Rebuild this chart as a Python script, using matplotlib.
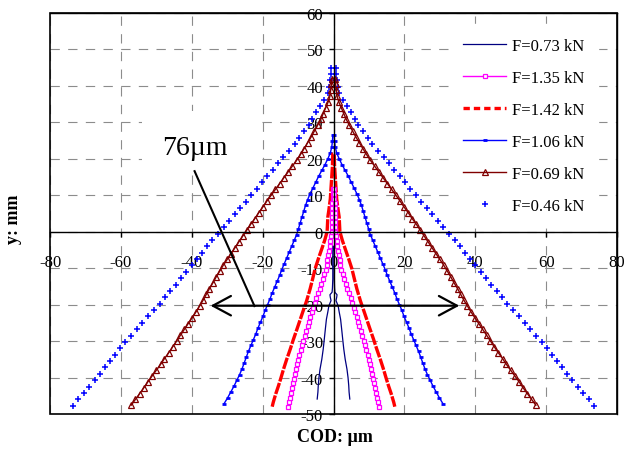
import numpy as np
import matplotlib
matplotlib.use("Agg")
import matplotlib.pyplot as plt
from matplotlib.patches import Rectangle
from matplotlib.lines import Line2D

plt.rcParams['font.family'] = ['Liberation Serif', 'DejaVu Serif']
plt.rcParams['axes.unicode_minus'] = False

# ---------------- data (y position in mm, half opening in µm) ----------------
labels = ["F=0.73 kN", "F=1.35 kN", "F=1.42 kN", "F=1.06 kN", "F=0.69 kN", "F=0.46 kN"]

y_073 = [-4.0, -5.5, -8.0, -10.5, -13.0, -15.5, -16.6, -17.3, -18.0, -18.9, -20.3, -22.0,
         -24.0, -26.7, -29.5, -32.2, -35.0, -37.7, -40.0, -42.2, -44.0, -45.9]
x_073 = [0.1, 0.2, 0.2, 0.2, 0.2, 0.3, 0.4, 1.0, 0.9, 0.7, 1.3, 1.6,
         2.0, 2.3, 2.6, 2.9, 3.3, 3.8, 4.1, 4.3, 4.4, 4.6]

y_135 = [11.7, 10.4, 9.1, 7.8, 6.5, 5.2, 3.9, 2.6, 1.3, 0.0, -1.3, -2.6, -3.9, -5.2, -6.5,
         -7.8, -9.1, -10.4, -11.7, -13.0, -14.3, -15.6, -16.9, -18.2, -19.5, -20.8, -22.1,
         -23.4, -24.7, -26.0, -27.3, -28.6, -29.9, -31.2, -32.5, -33.8, -35.1, -36.4, -37.7,
         -39.0, -40.3, -41.6, -42.9, -44.2, -45.5, -46.8, -48.1]
x_135 = [0.1, 0.2, 0.2, 0.3, 0.3, 0.3, 0.4, 0.4, 0.5, 0.5, 0.7, 0.9, 1.1, 1.3, 1.5,
         1.7, 1.9, 2.2, 2.6, 3.0, 3.4, 3.8, 4.3, 4.8, 5.3, 5.8, 6.2,
         6.6, 7.0, 7.3, 7.7, 8.1, 8.5, 8.8, 9.2, 9.6, 9.9, 10.2, 10.5,
         10.8, 11.1, 11.4, 11.7, 12.0, 12.3, 12.6, 12.9]

y_142 = [21.3, 18.0, 15.0, 12.0, 9.0, 6.0, 4.0, 2.0, 0.0, -2.4, -4.7, -7.5, -10.2, -13.0,
         -15.7, -19.0, -22.1, -24.4, -26.7, -29.5, -32.2, -35.0, -37.7, -40.0, -42.2, -44.5,
         -46.8, -48.0]
x_142 = [0.2, 0.3, 0.5, 0.7, 0.9, 1.3, 1.6, 1.7, 1.8, 2.5, 3.3, 4.3, 5.2, 5.9,
         6.6, 7.6, 8.7, 9.5, 10.3, 11.3, 12.2, 13.2, 14.1, 14.8, 15.5, 16.3,
         17.0, 17.3]

y_106 = [26.4, 24.8, 23.2, 21.6, 20.0, 18.4, 16.8, 15.2, 13.6, 12.0, 10.4, 8.8, 7.2, 5.6,
         4.0, 2.4, 0.8, -0.8, -2.4, -4.0, -5.6, -7.2, -8.8, -10.4, -12.0, -13.6, -15.2,
         -16.8, -18.4, -20.0, -21.6, -23.2, -24.8, -26.4, -28.0, -29.6, -31.2, -32.8, -34.4,
         -36.0, -37.6, -39.2, -40.8, -42.4, -44.0, -45.6, -47.2]
x_106 = [0.2, 0.3, 0.5, 0.9, 1.6, 2.4, 3.3, 4.2, 5.0, 5.8, 6.6, 7.3, 7.9, 8.4,
         8.9, 9.4, 9.9, 10.4, 11.1, 11.8, 12.5, 13.2, 13.9, 14.6, 15.2, 15.9, 16.6,
         17.3, 17.9, 18.6, 19.3, 19.9, 20.6, 21.3, 21.9, 22.6, 23.3, 24.0, 24.6,
         25.2, 25.8, 26.5, 27.3, 28.1, 29.0, 29.9, 30.9]

y_069 = [42.0, 40.4, 38.8, 37.2, 35.6, 34.0, 32.4, 30.8, 29.2, 27.6, 26.0, 24.4, 22.8, 21.2,
         19.6, 18.0, 16.4, 14.8, 13.2, 11.6, 10.0, 8.4, 6.8, 5.2, 3.6, 2.0, 0.4, -1.2, -2.8,
         -4.4, -6.0, -7.6, -9.2, -10.8, -12.4, -14.0, -15.6, -17.2, -18.8, -20.4, -22.0,
         -23.6, -25.2, -26.8, -28.4, -30.0, -31.6, -33.2, -34.8, -36.4, -38.0, -39.6, -41.2,
         -42.8, -44.4, -46.0, -47.6]
x_069 = [0.5, 0.6, 0.8, 1.0, 1.5, 2.2, 2.9, 3.6, 4.5, 5.4, 6.3, 7.3, 8.3, 9.3,
         10.4, 11.6, 12.8, 14.0, 15.2, 16.4, 17.6, 18.8, 19.9, 21.1, 22.2, 23.4, 24.5, 25.6, 26.7,
         27.8, 28.9, 30.0, 31.1, 32.1, 33.1, 34.0, 35.0, 35.9, 36.8, 37.8, 38.8,
         39.9, 41.0, 42.1, 43.2, 44.3, 45.4, 46.5, 47.7, 48.8, 50.0, 51.2, 52.4,
         53.5, 54.7, 55.9, 57.1]

y_046 = [45.0, 43.25, 41.5, 39.75, 38.0, 36.25, 34.5, 32.75, 31.0, 29.25, 27.5, 25.75, 24.0,
         22.25, 20.5, 18.75, 17.0, 15.25, 13.5, 11.75, 10.0, 8.25, 6.5, 4.75, 3.0, 1.25, -0.5,
         -2.25, -4.0, -5.75, -7.5, -9.25, -11.0, -12.75, -14.5, -16.25, -18.0, -19.75, -21.5,
         -23.25, -25.0, -26.75, -28.5, -30.25, -32.0, -33.75, -35.5, -37.25, -39.0, -40.75,
         -42.5, -44.25, -46.0, -47.75]
x_046 = [0.6, 0.8, 1.0, 1.2, 1.6, 2.6, 3.8, 5.0, 6.0, 7.0, 8.2, 9.6, 11.0,
         12.6, 14.2, 15.8, 17.2, 18.7, 20.2, 21.7, 23.2, 24.8, 26.3, 27.8, 29.4, 31.0, 32.6,
         34.2, 35.7, 37.1, 38.6, 40.0, 41.5, 43.0, 44.5, 46.0, 47.6, 49.1, 50.7,
         52.3, 53.9, 55.5, 57.1, 58.7, 60.2, 61.6, 63.1, 64.6, 66.0, 67.4,
         68.9, 70.5, 72.0, 73.4]

x_ticks = [-80, -60, -40, -20, 0, 20, 40, 60, 80]
y_ticks = [-50, -40, -30, -20, -10, 0, 10, 20, 30, 40, 50, 60]

note_text = "76µm"
note_pos = (-39.2, 23.2)
note_box = (-53.9, 16.7, 33.6, 16.4)
leader = ([-39.2, -22.3], [16.6, -20.4])
span_y = -20.3
span_x = (-34.7, 35.5)


def both_sides(xh, yv):
    xh = np.asarray(xh, float)
    yv = np.asarray(yv, float)
    return np.concatenate([-xh[::-1], xh]), np.concatenate([yv[::-1], yv])


fig = plt.figure(figsize=(6.25, 4.52), dpi=100)
ax = fig.add_axes([0.08, 0.0819, 0.9072, 0.8872])
ax.set_xlim(-80, 80)
ax.set_ylim(-50, 60)

ax.set_axisbelow(True)
ax.grid(True, color='#8c8c8c', lw=0.8, linestyle=(0, (8.4, 7.5)))

# white box behind the note
ax.add_patch(Rectangle((note_box[0], note_box[1]), note_box[2], note_box[3],
                       fc='white', ec='none', zorder=1))

styles = {
    "F=0.46 kN": dict(color='#0000FF', ls='none', marker='+', ms=4.6, mew=1.1),
    "F=0.69 kN": dict(color='#800000', lw=1.0, marker='^', ms=4.3, mew=0.9, mfc='none'),
    "F=1.06 kN": dict(color='#0000FF', lw=1.0, marker='_', ms=3.2, mew=2.0),
    "F=1.42 kN": dict(color='#FF0000', lw=2.4, ls=(0, (3.5, 0.45))),
    "F=1.35 kN": dict(color='#FF00FF', lw=1.0, marker='s', ms=3.0, mew=0.9, mfc='white'),
    "F=0.73 kN": dict(color='#000080', lw=0.9),
}
series = {
    "F=0.46 kN": (x_046, y_046),
    "F=0.69 kN": (x_069, y_069),
    "F=1.06 kN": (x_106, y_106),
    "F=1.42 kN": (x_142, y_142),
    "F=1.35 kN": (x_135, y_135),
    "F=0.73 kN": (x_073, y_073),
}
handles = {}
for i, (name, (xs, ys)) in enumerate(series.items()):
    X, Y = both_sides(xs, ys)
    ln, = ax.plot(X, Y, zorder=2 + i * 0.1, **styles[name])
    handles[name] = ln
# legend key for the dashed red series (short square dashes as in the key)
handles["F=1.42 kN"] = Line2D([], [], color='#FF0000', lw=2.4, ls=(0, (1.9, 1.2)))

# spines through the origin + full frame
ax.spines['left'].set_position(('data', 0))
ax.spines['bottom'].set_position(('data', 0))
for s in ax.spines.values():
    s.set_color('black')
    s.set_linewidth(1.0)
ax.add_patch(Rectangle((0, 0), 1, 1, transform=ax.transAxes, fill=False,
                       ec='black', lw=1.2, clip_on=False, zorder=5))
ax.xaxis.set_ticks_position('bottom')
ax.yaxis.set_ticks_position('left')
ax.set_xticks(x_ticks)
ax.set_yticks(y_ticks)
ax.tick_params(axis='x', direction='out', length=3.5, width=1, pad=12.5, labelsize=12)
ax.tick_params(axis='y', direction='out', length=3.5, width=1, pad=4, labelsize=12)

# annotation
ax.text(note_pos[0], note_pos[1], note_text, fontsize=20, ha='center', va='center', zorder=6)
ax.plot(leader[0], leader[1], color='black', lw=1.5, zorder=6)
ax.annotate('', xy=(span_x[0], span_y), xytext=(span_x[1], span_y),
            arrowprops=dict(arrowstyle='<->,head_length=1.3,head_width=0.7',
                            color='black', lw=1.6, shrinkA=0, shrinkB=0,
                            mutation_scale=10), zorder=6)

leg = ax.legend([handles[n] for n in labels], labels, loc='upper left',
                bbox_to_anchor=(0.705, 0.972), fontsize=12, numpoints=1,
                handlelength=2.6, handletextpad=0.35, labelspacing=0.96,
                borderpad=0.8, borderaxespad=0, frameon=True, fancybox=False)
leg.get_frame().set_facecolor('white')
leg.get_frame().set_edgecolor('white')
leg.get_frame().set_alpha(1)
leg.set_zorder(7)

fig.text(335 / 625, 1 - 438 / 452, 'COD: µm', ha='center', va='center',
         fontsize=13, fontweight='bold')
fig.text(13 / 625, 1 - 219 / 452, 'y: mm', ha='center', va='center',
         rotation=90, fontsize=13, fontweight='bold')

fig.savefig('out.png', dpi=100)
